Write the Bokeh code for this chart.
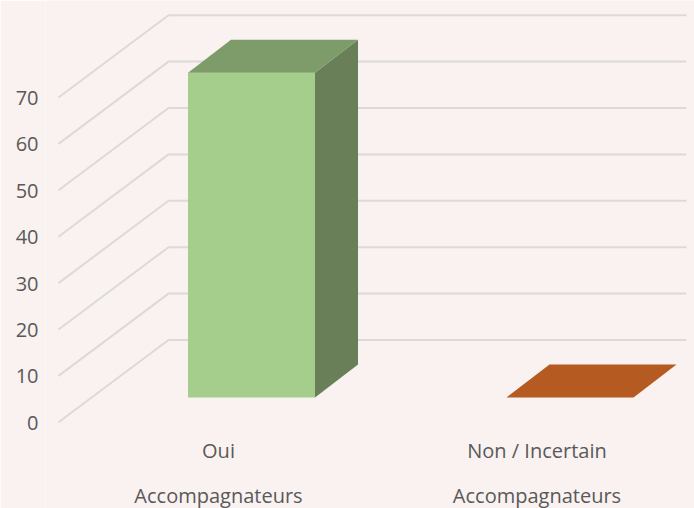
from bokeh.embed import file_html
from bokeh.resources import INLINE
from bokeh.plotting import figure
from bokeh.models import Range1d, LinearAxis, FixedTicker
from bokeh.core.properties import value

categories = ["Oui", "Non / Incertain"]
group_labels = ["Accompagnateurs", "Accompagnateurs"]
values = [70, 0]
tick_values = [0, 10, 20, 30, 40, 50, 60, 70]

front_colors = ["#a5cd8c", "#b55a21"]
top_colors = ["#7d9c69", "#b55a21"]
side_colors = ["#687f58", "#8f4719"]
BG = "#f9f2f0"
GRID = "#dcdad8"
TXT = "#595959"
FONT = "Open Sans"
FONT_SIZE = "20px"

# layout, in page pixels of the reference
W, H = 694, 508
MARGIN = 0
FRAME_LEFT = 45
PX_PER_UNIT = 46.4 / 10
BASE_PY = 397.0          # value 0 at the bar's front face
AXIS_BASE_PY = 422.3     # value 0 at the wall's front edge
BAR_X0, BAR_STEP, BAR_W = 187.5, 318.5, 127.0
DEPTH_X, DEPTH_Y = 43.0, 33.0 / 4.64
WALL_X0, WALL_X1, WALL_X2 = 58.0, 168.0, 686.0
WALL_RISE = 82.3 / 4.64
WALL_DROP = (421.8 - BASE_PY) / 4.64
LABEL_SHIFT = -33.0
CAT_LABEL_V = (BASE_PY - 450) / 4.64
GROUP_LABEL_V = (BASE_PY - 494.5) / 4.64

top_py, bot_py = MARGIN, MARGIN + H
y_start = (BASE_PY - bot_py) / PX_PER_UNIT
y_end = (BASE_PY - top_py) / PX_PER_UNIT

p = figure(width=W, height=H, output_backend="svg", toolbar_location=None,
           x_range=Range1d(FRAME_LEFT, MARGIN + W), y_range=Range1d(y_start, y_end),
           min_border_left=FRAME_LEFT - MARGIN, min_border_right=0, min_border_top=0, min_border_bottom=0,
           background_fill_color=BG, border_fill_color=BG, outline_line_color=None)
p.xaxis.visible = False
p.yaxis.visible = False
p.xgrid.visible = False
p.ygrid.visible = False

# value axis, on the wall's front edge
p.extra_y_ranges["wall"] = Range1d((AXIS_BASE_PY - bot_py) / PX_PER_UNIT, (AXIS_BASE_PY - top_py) / PX_PER_UNIT)
ax = LinearAxis(y_range_name="wall", ticker=FixedTicker(ticks=tick_values))
ax.axis_line_color = None
ax.major_tick_line_color = None
ax.minor_tick_line_color = None
ax.major_tick_in = 0
ax.major_tick_out = 0
ax.major_label_standoff = 7
ax.major_label_text_font = FONT
ax.major_label_text_font_size = FONT_SIZE
ax.major_label_text_color = TXT
p.add_layout(ax, "left")

# walls
p.multi_line(
    xs=[[WALL_X0, WALL_X1, WALL_X2] for _ in tick_values],
    ys=[[t - WALL_DROP, t - WALL_DROP + WALL_RISE, t - WALL_DROP + WALL_RISE] for t in tick_values],
    line_color=GRID, line_width=2)

# bars
for i, v in enumerate(values):
    x0 = BAR_X0 + i * BAR_STEP
    x1 = x0 + BAR_W
    if v > 0:
        p.patch([x1, x1 + DEPTH_X, x1 + DEPTH_X, x1], [0, DEPTH_Y, v + DEPTH_Y, v],
                fill_color=side_colors[i], line_color=None)
        p.patch([x0, x1, x1, x0], [0, 0, v, v], fill_color=front_colors[i], line_color=None)
    p.patch([x0, x1, x1 + DEPTH_X, x0 + DEPTH_X], [v, v, v + DEPTH_Y, v + DEPTH_Y],
            fill_color=top_colors[i], line_color=None)

# category labels
xc = [BAR_X0 + i * BAR_STEP + BAR_W / 2 + LABEL_SHIFT for i in range(len(categories))]
p.text(xc, [CAT_LABEL_V] * len(xc), text=categories, text_font=value(FONT), text_font_size=FONT_SIZE,
       text_color=TXT, text_align="center", text_baseline="middle")
p.text(xc, [GROUP_LABEL_V] * len(xc), text=group_labels, text_font=value(FONT), text_font_size=FONT_SIZE,
       text_color=TXT, text_align="center", text_baseline="middle")

open("out.html", "w").write(file_html(p, INLINE))
